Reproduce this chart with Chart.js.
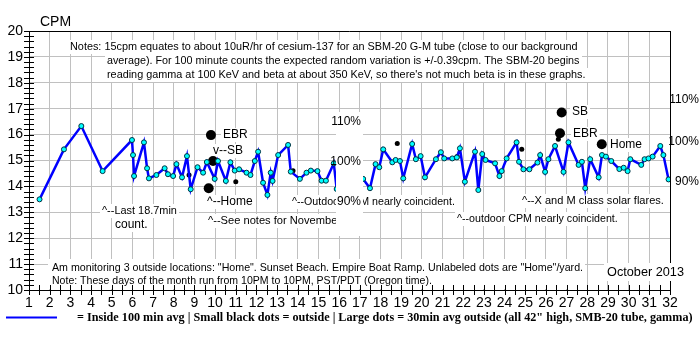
<!DOCTYPE html>
<html>
<head>
<meta charset="utf-8">
<script src="https://cdn.jsdelivr.net/npm/chart.js@4.4.0/dist/chart.umd.min.js"></script>
<style>
  body { margin: 0; background: #fff; }
  #wrap { width: 700px; height: 350px; }
</style>
</head>
<body>
<div id="wrap"><canvas id="cpmChart" width="700" height="350"></canvas></div>
<script>
// Inside 100 min avg (day of month, CPM)
const insideDays = [1.51, 2.69, 3.53, 4.56, 5.98, 6.03, 6.08, 6.56, 6.71, 6.80, 7.16, 7.56, 7.72, 7.97, 8.13, 8.40, 8.64, 8.82,
  9.15, 9.42, 9.60, 9.98, 10.14, 10.52, 10.74, 10.95, 11.16, 11.52, 11.71, 11.92, 12.08, 12.32, 12.53, 12.69, 12.78,
  13.05, 13.53, 13.66, 14.10, 14.42, 14.63, 14.95, 15.15, 15.36, 15.74, 15.88,
  17.16, 17.49, 17.76, 17.94, 18.13, 18.57, 18.73, 18.94, 19.10, 19.53, 19.71, 19.94, 20.15, 20.68, 20.92, 21.08,
  21.47, 21.69, 21.84, 22.08, 22.57, 22.73, 22.92, 23.08, 23.54, 23.75, 23.86, 24.10, 24.58, 24.70, 24.91, 25.20,
  25.59, 25.72, 25.96, 26.12, 26.44, 26.85, 27.09, 27.58, 27.74, 27.90, 28.14, 28.55, 28.71, 28.90, 29.16, 29.55,
  29.76, 29.95, 30.08, 30.61, 30.77, 30.96, 31.16, 31.53, 31.68, 31.93];
const insideCpm = [13.50, 15.43, 16.33, 14.59, 15.79, 15.21, 14.40, 15.70, 14.70, 14.31, 14.44, 14.70, 14.47, 14.40, 14.86, 14.35, 15.17, 13.89,
  14.74, 14.53, 14.94, 14.29, 14.98, 14.21, 14.93, 14.61, 14.66, 14.53, 14.44, 14.98, 15.34, 14.14, 13.67, 14.53, 14.21,
  15.21, 15.60, 14.57, 14.29, 14.53, 14.61, 14.59, 14.22, 14.22, 14.89, 13.90,
  14.29, 13.93, 14.86, 14.74, 15.43, 14.93, 15.02, 14.98, 14.31, 15.64, 15.05, 15.17, 14.35, 15.05, 15.32, 15.08,
  15.08, 15.12, 15.47, 14.18, 15.34, 13.86, 15.25, 15.02, 14.89, 14.40, 14.59, 15.08, 15.70, 14.95, 14.66, 14.66,
  14.92, 15.21, 14.56, 15.05, 15.56, 14.56, 15.70, 14.83, 14.95, 13.93, 15.05, 14.35, 15.21, 15.15, 14.98, 14.67,
  14.72, 14.59, 15.05, 14.83, 15.05, 15.08, 15.15, 15.56, 15.21, 14.27];

// Small black dots = outside readings
const outsideDays = [8.74, 11.00, 13.77, 18.81, 21.71, 24.83, 26.60];
const outsideCpm = [14.44, 14.18, 14.60, 15.66, 15.15, 15.43, 15.82];

// Large dots = 30 min avg outside
const avgDays = [9.80, 9.90, 9.69, 26.76, 26.68, 28.70];
const avgCpm = [15.98, 14.98, 13.93, 16.85, 16.05, 15.63];

const percentLabels = ['110%', '100%', '90%'];

const toPoints = (xs, ys) => xs.map((x, i) => ({ x: x, y: ys[i] }));

const SANS = '"Liberation Sans", Arial, sans-serif';

// set a font so the text is about `width` px wide
function fitFont(ctx, text, width, family, weight) {
    ctx.font = (weight || '') + ' 12px ' + family;
    const size = 12 * width / ctx.measureText(text).width;
    ctx.font = (weight || '') + ' ' + size.toFixed(2) + 'px ' + family;
}

// white-backed label (plain 12px when no width is given)
function label(ctx, text, x, y, width) {
    if (width) {
        fitFont(ctx, text, width, SANS);
    } else {
        ctx.font = '12px ' + SANS;
        width = ctx.measureText(text).width;
    }
    ctx.fillStyle = '#fff';
    ctx.fillRect(x - 2, y - 7, width + 4, 14);
    ctx.fillStyle = '#000';
    ctx.textBaseline = 'middle';
    ctx.textAlign = 'left';
    ctx.fillText(text, x, y);
}

// Text notes sitting behind the data
const notesPlugin = {
    id: 'notes',
    beforeDatasetsDraw(chart) {
        const ctx = chart.ctx;
        ctx.save();
        label(ctx, 'Notes: 15cpm equates to about 10uR/hr of cesium-137 for an SBM-20 G-M tube (close to our background', 70, 47, 508);
        label(ctx, 'average). For 100 minute counts the expected random variation is +/-0.39cpm. The SBM-20 begins', 107, 61, 473);
        label(ctx, 'reading gamma at 100 KeV and beta at about 350 KeV, so there\'s not much beta is in these graphs.', 107, 75, 479);

        label(ctx, '^--Last 18.7min', 102, 211, 75);
        label(ctx, 'count.', 115, 225);
        label(ctx, 'EBR', 223, 135);
        label(ctx, 'v--SB', 213, 151);
        label(ctx, '^--Home', 207, 202);
        label(ctx, '^--See notes for November', 208, 221, 133);
        label(ctx, '^--Outdoor CPM nearly coincident.', 292, 202, 163);
        label(ctx, '^--outdoor CPM nearly coincident.', 457, 219, 161);
        label(ctx, '^--X and M class solar flares.', 522, 201, 142);
        label(ctx, 'SB', 572, 112);
        label(ctx, 'EBR', 573, 134);
        label(ctx, 'Home', 610, 145);

        ctx.fillStyle = '#fff';
        ctx.fillRect(48, 259, 536, 30);
        label(ctx, 'Am monitoring 3 outside locations: "Home". Sunset Beach. Empire Boat Ramp. Unlabeled dots are "Home"/yard.', 52, 268, 531);
        label(ctx, 'Note: These days of the month run from 10PM to 10PM, PST/PDT (Oregon time).', 52, 281, 380);
        ctx.restore();
    },
    afterDatasetsDraw(chart) {
        // pasted-in percent scale covering part of the line
        const ctx = chart.ctx;
        ctx.save();
        ctx.fillStyle = '#fff';
        ctx.fillRect(336, 112, 27, 124);
        ctx.font = '12px ' + SANS;
        ctx.fillStyle = '#000';
        ctx.textAlign = 'right';
        ctx.textBaseline = 'middle';
        ctx.fillText(percentLabels[0], 361, 122);
        ctx.fillText(percentLabels[1], 361, 162);
        ctx.fillText(percentLabels[2], 361, 202);
        ctx.restore();
    },
    afterDraw(chart) {
        const ctx = chart.ctx;
        const a = chart.chartArea;
        const xs = chart.scales.x;
        const ys = chart.scales.y;
        ctx.save();
        ctx.strokeStyle = '#000';
        ctx.lineWidth = 1;
        ctx.beginPath();
        ctx.moveTo(a.left, a.top + 0.5);
        ctx.lineTo(a.right, a.top + 0.5);
        ctx.moveTo(a.right + 0.5, a.top);
        ctx.lineTo(a.right + 0.5, a.bottom);
        // "+" ticks on the y axis
        for (let v = 10; v <= 20.001; v += 0.2) {
            const py = Math.round(ys.getPixelForValue(v)) + 0.5;
            ctx.moveTo(a.left - 5, py);
            ctx.lineTo(a.left + 5, py);
        }
        // and on the x axis, every half day
        for (let d = 1; d <= 32.001; d += 0.5) {
            const px = Math.round(xs.getPixelForValue(d)) + 0.5;
            ctx.moveTo(px, a.bottom - 5);
            ctx.lineTo(px, a.bottom + 5);
        }
        ctx.stroke();

        // month label
        fitFont(ctx, 'October 2013', 77, SANS);
        ctx.fillStyle = '#fff';
        ctx.fillRect(604, 263, 81, 18);
        ctx.fillStyle = '#000';
        ctx.textBaseline = 'middle';
        ctx.textAlign = 'left';
        ctx.fillText('October 2013', 607, 272);

        ctx.font = '14px ' + SANS;
        ctx.fillText('CPM', 40, 22);

        // right side percent labels
        ctx.font = '12px ' + SANS;
        ctx.textAlign = 'right';
        ctx.fillText(percentLabels[0], 699, 100);
        ctx.fillText(percentLabels[1], 699, 142);
        ctx.fillText(percentLabels[2], 699, 182);

        // legend line
        ctx.strokeStyle = '#0000ff';
        ctx.lineWidth = 2;
        ctx.beginPath();
        ctx.moveTo(6, 317.5);
        ctx.lineTo(57, 317.5);
        ctx.stroke();
        const legendText = '= Inside 100 min avg | Small black dots = outside | Large dots = 30min avg outside (all 42" high, SMB-20 tube, gamma)';
        fitFont(ctx, legendText, 616, '"Liberation Serif", "Times New Roman", serif', 'bold');
        ctx.textAlign = 'left';
        ctx.fillStyle = '#000';
        ctx.fillText(legendText, 77, 318);
        ctx.restore();
    }
};

const ctx = document.getElementById('cpmChart').getContext('2d');
const cpmChart = new Chart(ctx, {
    type: 'scatter',
    data: {
        datasets: [
            {
                label: 'Inside 100 min avg',
                data: toPoints(insideDays, insideCpm),
                showLine: true,
                borderColor: '#0000ff',
                borderWidth: 2.5,
                tension: 0,
                pointRadius: 2.5,
                pointBackgroundColor: '#00ffff',
                pointBorderColor: '#003040',
                pointBorderWidth: 1
            },
            {
                label: 'Outside',
                data: toPoints(outsideDays, outsideCpm),
                showLine: false,
                pointRadius: 2.5,
                pointBackgroundColor: '#000',
                pointBorderColor: '#000',
                pointBorderWidth: 0
            },
            {
                label: '30min avg outside',
                data: toPoints(avgDays, avgCpm),
                showLine: false,
                pointRadius: 5,
                pointBackgroundColor: '#000',
                pointBorderColor: '#000',
                pointBorderWidth: 0
            }
        ]
    },
    options: {
        responsive: false,
        animation: false,
        devicePixelRatio: 1,
        layout: { padding: { left: 0, top: 31, right: 30, bottom: 0 } },
        plugins: {
            legend: { display: false },
            tooltip: { enabled: false }
        },
        scales: {
            x: {
                type: 'linear',
                min: 1,
                max: 32,
                afterFit: (scale) => { scale.height = 60; },
                ticks: { stepSize: 1, color: '#000', font: { family: SANS, size: 14 }, padding: 5, maxRotation: 0 },
                grid: { color: '#c0c0c0', drawTicks: false },
                border: { color: '#000', width: 1 }
            },
            y: {
                type: 'linear',
                min: 10,
                max: 20,
                afterFit: (scale) => { scale.width = 29; },
                ticks: { stepSize: 1, color: '#000', font: { family: SANS, size: 14 }, padding: 6 },
                grid: { color: '#c0c0c0', drawTicks: false },
                border: { color: '#000', width: 1 }
            }
        }
    },
    plugins: [notesPlugin]
});
</script>
</body>
</html>
